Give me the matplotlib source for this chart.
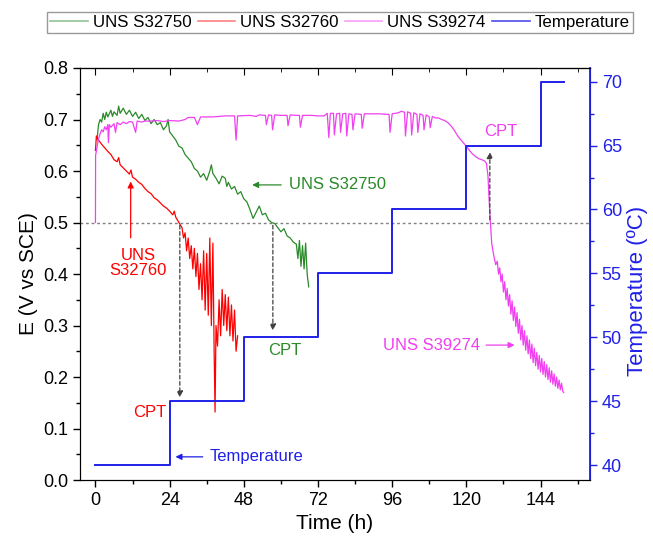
import matplotlib
matplotlib.use('Agg')
import matplotlib.pyplot as plt
from matplotlib.lines import Line2D

plt.rcParams['font.family'] = ['Liberation Sans', 'DejaVu Sans']

# UNS S32760 (red)
t_32760 = [0.0, 0.3, 1, 2, 3, 4, 5, 6, 7, 7.5, 8, 9, 10, 11, 11.5, 12, 13, 14, 15, 16,
           17, 18, 19, 20, 21, 22, 23, 24, 25, 25.5, 26, 27, 28, 28.5, 29, 29.5, 30, 30.5,
           31, 31.5, 32, 32.5, 33, 33.5, 34, 34.5, 35, 35.5, 36, 36.5, 37, 37.5, 38, 38.4,
           38.7, 39, 39.5, 40, 40.5, 41, 41.5, 42, 42.5, 43, 43.5, 44, 44.5, 45, 45.5, 46]
e_32760 = [0.640, 0.668, 0.660, 0.652, 0.645, 0.638, 0.632, 0.622, 0.618, 0.626, 0.612,
           0.606, 0.600, 0.594, 0.602, 0.588, 0.584, 0.578, 0.574, 0.566, 0.560, 0.556,
           0.548, 0.544, 0.538, 0.532, 0.528, 0.522, 0.515, 0.522, 0.510, 0.500, 0.490,
           0.470, 0.480, 0.445, 0.470, 0.430, 0.455, 0.410, 0.450, 0.395, 0.440, 0.370,
           0.420, 0.350, 0.445, 0.330, 0.440, 0.320, 0.470, 0.300, 0.460, 0.250, 0.132,
           0.300, 0.260, 0.350, 0.280, 0.370, 0.300, 0.360, 0.290, 0.355, 0.280, 0.340,
           0.270, 0.330, 0.250, 0.280]

# UNS S32750 (green)
t_32750 = [0.5, 1, 1.5, 2, 2.5, 3, 3.5, 4, 5, 5.5, 6, 7, 7.5, 8, 9, 10, 11, 12, 13, 14,
           15, 16, 17, 18, 19, 20, 21, 22, 23, 23.5, 24, 25, 26, 27, 28, 29, 30, 31, 32,
           33, 34, 35, 36, 37, 37.5, 38, 39, 40, 41, 42, 42.5, 43, 44, 45, 46, 47, 48, 49,
           50, 51, 52, 53, 54, 55, 56, 57, 58, 59, 60, 61, 62, 63, 64, 65, 65.5, 66, 66.5,
           67, 67.5, 68, 68.5, 69]
e_32750 = [0.660, 0.690, 0.700, 0.695, 0.712, 0.700, 0.714, 0.705, 0.718, 0.706, 0.715,
           0.708, 0.726, 0.712, 0.722, 0.710, 0.718, 0.706, 0.714, 0.702, 0.710, 0.698,
           0.704, 0.692, 0.700, 0.690, 0.694, 0.680, 0.688, 0.700, 0.676, 0.668, 0.660,
           0.648, 0.645, 0.632, 0.625, 0.618, 0.605, 0.600, 0.588, 0.595, 0.582, 0.600,
           0.612, 0.595, 0.586, 0.575, 0.590, 0.586, 0.570, 0.578, 0.565, 0.570, 0.555,
           0.560, 0.546, 0.540, 0.525, 0.508, 0.520, 0.532, 0.515, 0.518, 0.505, 0.500,
           0.498, 0.490, 0.482, 0.488, 0.474, 0.470, 0.462, 0.458, 0.430, 0.465, 0.415,
           0.455, 0.410, 0.460, 0.400, 0.375]

# UNS S39274 (magenta)
t_39274 = [0, 0.05, 0.6, 1, 1.5, 2, 2.5, 3, 3.5, 4, 4.2, 4.5, 5, 6, 6.5, 7, 8, 9, 10, 11,
           12, 13, 13.5, 15, 16, 18, 20, 22, 24, 27, 29, 30, 32, 33, 34, 38, 40, 42, 45,
           45.5, 46, 50, 52, 53, 55, 55.3, 56, 57, 57.3, 58, 60, 62, 62.3, 63, 65, 66,
           66.3, 67, 70, 72, 74, 75, 75.5, 76, 77, 77.3, 78, 79, 79.3, 80, 81, 81.3, 82,
           83, 83.3, 84, 86, 86.3, 87, 90, 92, 94, 95, 95.3, 96, 98, 99, 100, 100.3, 101,
           102, 102.3, 103, 104, 104.3, 105, 106, 106.3, 107, 108, 108.3, 109, 110, 111,
           112, 113, 114, 115, 116, 117, 118, 119, 120, 121, 122, 123, 124, 125, 126,
           126.5, 127, 127.4, 127.8, 128.2, 128.6, 129, 129.5, 130, 130.4, 130.8, 131.2,
           131.6, 132, 132.4, 132.8, 133.2, 133.6, 134, 134.4, 134.8, 135.2, 135.6, 136,
           136.4, 136.8, 137.2, 137.6, 138, 138.4, 138.8, 139.2, 139.6, 140, 140.4, 140.8,
           141.2, 141.6, 142, 142.4, 142.8, 143.2, 143.6, 144, 144.4, 144.8, 145.2, 145.6,
           146, 146.4, 146.8, 147.2, 147.6, 148, 148.4, 148.8, 149.2, 149.6, 150, 150.4,
           150.8, 151.2, 151.5]
e_39274 = [0.500, 0.630, 0.650, 0.662, 0.672, 0.680, 0.676, 0.686, 0.680, 0.690, 0.655,
           0.690, 0.685, 0.692, 0.675, 0.694, 0.690, 0.695, 0.692, 0.696, 0.695, 0.675,
           0.697, 0.695, 0.697, 0.697, 0.698, 0.696, 0.698, 0.697, 0.700, 0.704, 0.704,
           0.690, 0.705, 0.705, 0.706, 0.707, 0.707, 0.660, 0.707, 0.708, 0.706, 0.709,
           0.708, 0.690, 0.709, 0.708, 0.680, 0.709, 0.708, 0.708, 0.688, 0.709, 0.708,
           0.708, 0.685, 0.708, 0.708, 0.707, 0.707, 0.712, 0.665, 0.712, 0.712, 0.670,
           0.711, 0.712, 0.675, 0.711, 0.712, 0.668, 0.711, 0.710, 0.680, 0.711, 0.710,
           0.683, 0.711, 0.711, 0.711, 0.710, 0.710, 0.675, 0.711, 0.713, 0.716, 0.714,
           0.668, 0.715, 0.712, 0.670, 0.713, 0.710, 0.675, 0.711, 0.708, 0.680, 0.709,
           0.705, 0.684, 0.706, 0.703, 0.703, 0.700, 0.698, 0.694, 0.688, 0.680, 0.670,
           0.662, 0.655, 0.648, 0.640, 0.633, 0.628, 0.624, 0.622, 0.619, 0.615, 0.590,
           0.540, 0.498, 0.460, 0.445, 0.432, 0.418, 0.425, 0.400, 0.412, 0.385, 0.400,
           0.365, 0.385, 0.350, 0.372, 0.338, 0.360, 0.322, 0.348, 0.310, 0.336, 0.298,
           0.325, 0.285, 0.312, 0.272, 0.300, 0.262, 0.290, 0.252, 0.280, 0.245, 0.272,
           0.236, 0.264, 0.228, 0.256, 0.222, 0.248, 0.215, 0.242, 0.210, 0.236, 0.205,
           0.230, 0.200, 0.224, 0.195, 0.218, 0.190, 0.212, 0.186, 0.206, 0.182, 0.200,
           0.178, 0.194, 0.175, 0.188, 0.172, 0.170]

# temperature steps
t_temp = [0, 24, 48, 72, 96, 120, 144, 151.5]
temp = [40, 45, 50, 55, 60, 65, 70, 70]

c_green = '#2a8a2a'
c_red = '#ff0000'
c_mag = '#f040f0'
c_blue = '#2020e8'

fig = plt.figure(figsize=(6.53, 5.44), dpi=100)
ax = fig.add_axes([0.1225, 0.1176, 0.781, 0.7574])
ax2 = ax.twinx()

ax.plot(t_32750, e_32750, color=c_green, lw=0.9)
ax.plot(t_32760, e_32760, color=c_red, lw=0.9)
ax.plot(t_39274, e_39274, color=c_mag, lw=0.9)
ax2.plot(t_temp, temp, color=c_blue, lw=1.4, drawstyle='steps-post')

ax.axhline(0.5, color='#808080', ls=(0, (2, 2)), lw=1)

ax.set_xlim(-5, 160)
ax.set_ylim(0, 0.8)
ax2.set_ylim(38.83, 71.07)
ax.set_xticks([0, 24, 48, 72, 96, 120, 144])
ax.set_xticks(range(12, 160, 24), minor=True)
ax.set_yticks([0.0, 0.1, 0.2, 0.3, 0.4, 0.5, 0.6, 0.7, 0.8])
ax.set_yticks([0.05, 0.15, 0.25, 0.35, 0.45, 0.55, 0.65, 0.75], minor=True)
ax.set_yticklabels(['0.0', '0.1', '0.2', '0.3', '0.4', '0.5', '0.6', '0.7', '0.8'])
ax2.set_yticks([40, 45, 50, 55, 60, 65, 70])
ax2.set_yticks([42.5, 47.5, 52.5, 57.5, 62.5, 67.5], minor=True)

ax.tick_params(axis='both', which='major', labelsize=13, length=5, width=1)
ax.tick_params(axis='both', which='minor', length=3, width=1)
ax.tick_params(axis='x', which='both', direction='out')

# top ticks point inward
top = ax.secondary_xaxis('top')
top.set_xticks([0, 24, 48, 72, 96, 120, 144])
top.set_xticks(range(12, 160, 24), minor=True)
top.tick_params(axis='x', which='major', direction='in', length=5, labeltop=False)
top.tick_params(axis='x', which='minor', direction='in', length=3)

ax2.tick_params(axis='y', which='major', labelsize=13, length=5, width=1,
                colors=c_blue)
ax2.tick_params(axis='y', which='minor', length=3, width=1, colors=c_blue)
ax2.spines['right'].set_color(c_blue)
ax2.spines['right'].set_linewidth(1.3)

ax.set_xlabel('Time (h)', fontsize=15)
ax.set_ylabel('E (V vs SCE)', fontsize=15)
ax2.set_ylabel('Temperature (ºC)', fontsize=16, color=c_blue)
ax2.yaxis.set_label_coords(1.072, 0.46)

# CPT arrows
arr = dict(arrowstyle='-|>', color='#404040', ls=(0, (3, 2)), lw=0.9, mutation_scale=9)
ax.annotate('', xy=(27.3, 0.155), xytext=(27.3, 0.5), arrowprops=arr)
ax.annotate('', xy=(57.4, 0.285), xytext=(57.4, 0.5), arrowprops=arr)
ax.annotate('', xy=(127.6, 0.642), xytext=(127.6, 0.5), arrowprops=arr)

ax.text(17.5, 0.132, 'CPT', color=c_red, fontsize=12, ha='center', va='center')
ax.text(61.3, 0.252, 'CPT', color=c_green, fontsize=12, ha='center', va='center')
ax.text(131.2, 0.676, 'CPT', color=c_mag, fontsize=12, ha='center', va='center')

# series labels
ax.annotate('', xy=(11.4, 0.585), xytext=(11.4, 0.465),
            arrowprops=dict(arrowstyle='-|>', color=c_red, lw=0.9, mutation_scale=9))
ax.text(13.8, 0.421, 'UNS\nS32760', color=c_red, fontsize=12, ha='center',
        va='center', linespacing=1.05)
ax.annotate('', xy=(49.8, 0.573), xytext=(61.0, 0.573),
            arrowprops=dict(arrowstyle='-|>', color=c_green, lw=0.9, mutation_scale=9))
ax.text(62.5, 0.573, 'UNS S32750', color=c_green, fontsize=12, ha='left', va='center')
ax.annotate('', xy=(136.5, 0.262), xytext=(125.5, 0.262),
            arrowprops=dict(arrowstyle='-|>', color=c_mag, lw=0.9, mutation_scale=9))
ax.text(124.6, 0.262, 'UNS S39274', color=c_mag, fontsize=12, ha='right', va='center')
ax.annotate('', xy=(25.0, 0.045), xytext=(35.6, 0.045),
            arrowprops=dict(arrowstyle='-|>', color=c_blue, lw=0.9, mutation_scale=9))
ax.text(36.8, 0.045, 'Temperature', color=c_blue, fontsize=12, ha='left', va='center')

handles = [Line2D([], [], color=c_green, alpha=0.5, lw=1.2),
           Line2D([], [], color=c_red, alpha=0.5, lw=1.2),
           Line2D([], [], color=c_mag, alpha=0.5, lw=1.2),
           Line2D([], [], color=c_blue, alpha=0.8, lw=1.2)]
labels = ['UNS S32750', 'UNS S32760', 'UNS S39274', 'Temperature']
leg = fig.legend(handles, labels, loc='upper center', bbox_to_anchor=(0.5207, 0.985),
                 ncol=4, fontsize=12.2, frameon=True, fancybox=False,
                 edgecolor='#808080', handlelength=2.2, handletextpad=0.28,
                 columnspacing=0.4, borderpad=0.2, borderaxespad=0.2)
leg.get_frame().set_linewidth(1)

fig.savefig('out.png', dpi=100)
